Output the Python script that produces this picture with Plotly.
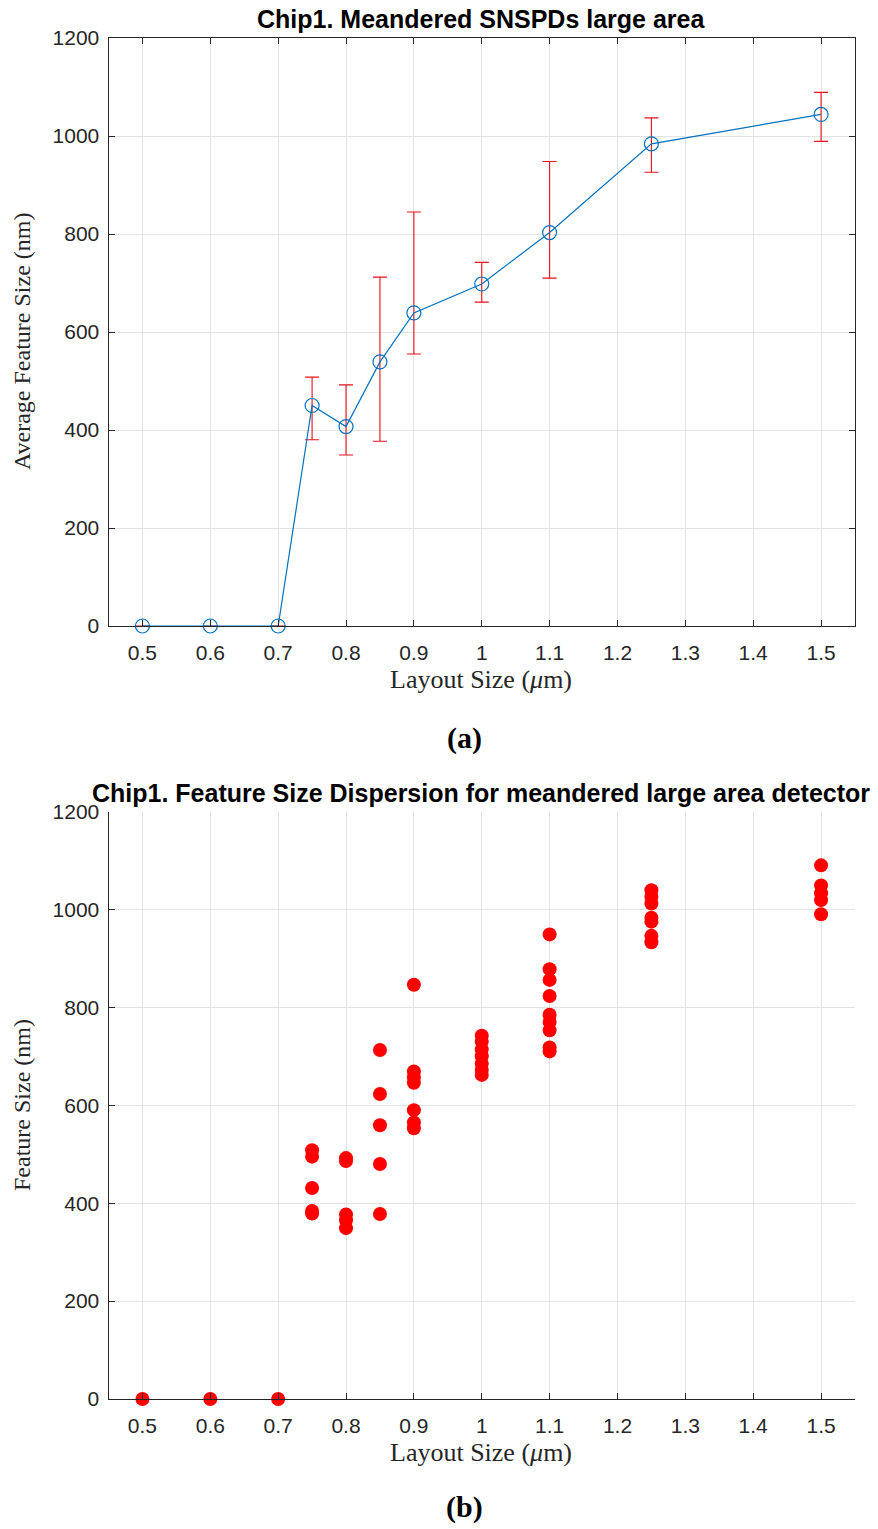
import plotly.graph_objects as go

# ---- data ----------------------------------------------------------------
layout_size = [0.5, 0.6, 0.7, 0.75, 0.8, 0.85, 0.9, 1.0, 1.1, 1.25, 1.5]
avg_feature = [0, 0, 0, 450, 407, 539, 639, 698, 803, 984, 1044]
feature_max = [0, 0, 0, 508, 492, 712, 845, 742, 948, 1037, 1089]
feature_min = [0, 0, 0, 380, 349, 377, 555, 661, 710, 926, 989]

# individual measurements per layout size
meas_050 = [0]
meas_060 = [0]
meas_070 = [0]
meas_075 = [508, 495, 431, 384, 379]
meas_080 = [492, 486, 377, 365, 349]
meas_085 = [713, 623, 559, 480, 378]
meas_090 = [846, 669, 657, 646, 590, 565, 553]
meas_100 = [742, 730, 714, 700, 685, 672, 662]
meas_110 = [949, 878, 856, 823, 785, 770, 753, 718, 710]
meas_125 = [1039, 1026, 1012, 983, 975, 946, 933]
meas_150 = [1090, 1049, 1033, 1019, 990]

groups = [meas_050, meas_060, meas_070, meas_075, meas_080, meas_085,
          meas_090, meas_100, meas_110, meas_125, meas_150]

x_ticks = [0.5, 0.6, 0.7, 0.8, 0.9, 1.0, 1.1, 1.2, 1.3, 1.4, 1.5]
x_tick_text = ["0.5", "0.6", "0.7", "0.8", "0.9", "1", "1.1", "1.2", "1.3", "1.4", "1.5"]
y_ticks = [0, 200, 400, 600, 800, 1000, 1200]

# ---- page geometry (pixels -> paper) -------------------------------------
W, H = 878, 1529


def px(x):
    return x / W


def py(y):
    return 1 - y / H


scat_x, scat_y = [], []
for xv, vals in zip(layout_size, groups):
    scat_x += [xv] * len(vals)
    scat_y += vals

err_plus = [hi - m for hi, m in zip(feature_max, avg_feature)]
err_minus = [m - lo for lo, m in zip(feature_min, avg_feature)]

BLUE = "#0072BD"
AXC = "#262626"
GRID = "#e3e3e3"
TICKFONT = dict(family="Liberation Sans, Arial, sans-serif", size=21, color=AXC)

fig = go.Figure()

# (a) mean feature size with min/max range
fig.add_trace(go.Scatter(
    x=layout_size, y=avg_feature, mode="lines+markers",
    line=dict(color=BLUE, width=1.2),
    marker=dict(symbol="circle-open", size=14, color=BLUE, line=dict(width=1.2)),
    error_y=dict(type="data", symmetric=False, array=err_plus, arrayminus=err_minus,
                 color="#E8101A", thickness=1.1, width=7),
    cliponaxis=False, showlegend=False, xaxis="x", yaxis="y",
))

# (b) every measured feature
fig.add_trace(go.Scatter(
    x=scat_x, y=scat_y, mode="markers",
    marker=dict(symbol="circle", size=14, color="#FF0000"),
    cliponaxis=False, showlegend=False, xaxis="x2", yaxis="y2",
))

xdom = [px(108.5), px(855)]
common_x = dict(range=[0.45, 1.55], tickvals=x_ticks, ticktext=x_tick_text,
                showgrid=True, gridcolor=GRID, gridwidth=1, zeroline=False,
                showline=True, linecolor=AXC, linewidth=1,
                ticks="inside", ticklen=6, tickcolor=AXC, tickfont=TICKFONT,
                ticklabelstandoff=8, domain=xdom, fixedrange=True, automargin=False)
common_y = dict(range=[0, 1200], tickvals=y_ticks,
                showgrid=True, gridcolor=GRID, gridwidth=1, zeroline=False,
                showline=True, linecolor=AXC, linewidth=1,
                ticks="inside", ticklen=6, tickcolor=AXC, tickfont=TICKFONT,
                ticklabelstandoff=4, fixedrange=True, automargin=False)

fig.update_layout(
    width=W, height=H,
    margin=dict(l=0, r=0, t=0, b=0, pad=0),
    paper_bgcolor="white", plot_bgcolor="white",
    xaxis=dict(**common_x, anchor="y", mirror="ticks"),
    yaxis=dict(**common_y, anchor="x", mirror="ticks", domain=[py(626), py(38)]),
    xaxis2=dict(**common_x, anchor="y2"),
    yaxis2=dict(**common_y, anchor="x2", domain=[py(1399), py(811.5)]),
)

TITLE_FONT = dict(family="Liberation Sans, Arial, sans-serif", size=25, color="#000000")
LABEL_FONT = dict(family="Liberation Serif, Times New Roman, serif", size=26, color=AXC)
YLABEL_FONT = dict(family="Liberation Serif, Times New Roman, serif", size=24, color=AXC)
CAP_FONT = dict(family="Liberation Serif, Times New Roman, serif", size=30, color="#000000")

annotations = [
    dict(text="<b>Chip1. Meandered SNSPDs large area</b>", x=px(481), y=py(19), font=TITLE_FONT),
    dict(text="<b>Chip1. Feature Size Dispersion for meandered large area detector</b>",
         x=px(481), y=py(793), font=TITLE_FONT),
    dict(text="Layout Size (<i>μ</i>m)", x=px(481), y=py(680), font=LABEL_FONT),
    dict(text="Layout Size (<i>μ</i>m)", x=px(481), y=py(1452), font=LABEL_FONT),
    dict(text="Average Feature Size (nm)", x=px(22), y=py(342), font=YLABEL_FONT, textangle=-90),
    dict(text="Feature Size (nm)", x=px(22), y=py(1105), font=YLABEL_FONT, textangle=-90),
    dict(text="<b>(a)</b>", x=px(464), y=py(738), font=CAP_FONT),
    dict(text="<b>(b)</b>", x=px(464), y=py(1507), font=CAP_FONT),
]
for a in annotations:
    a.update(xref="paper", yref="paper", showarrow=False, xanchor="center", yanchor="middle")
fig.update_layout(annotations=annotations)

fig.write_html(
    "out.html",
    config={"displayModeBar": False},
    post_script="document.body.style.margin='0';document.body.style.overflow='hidden';",
)
